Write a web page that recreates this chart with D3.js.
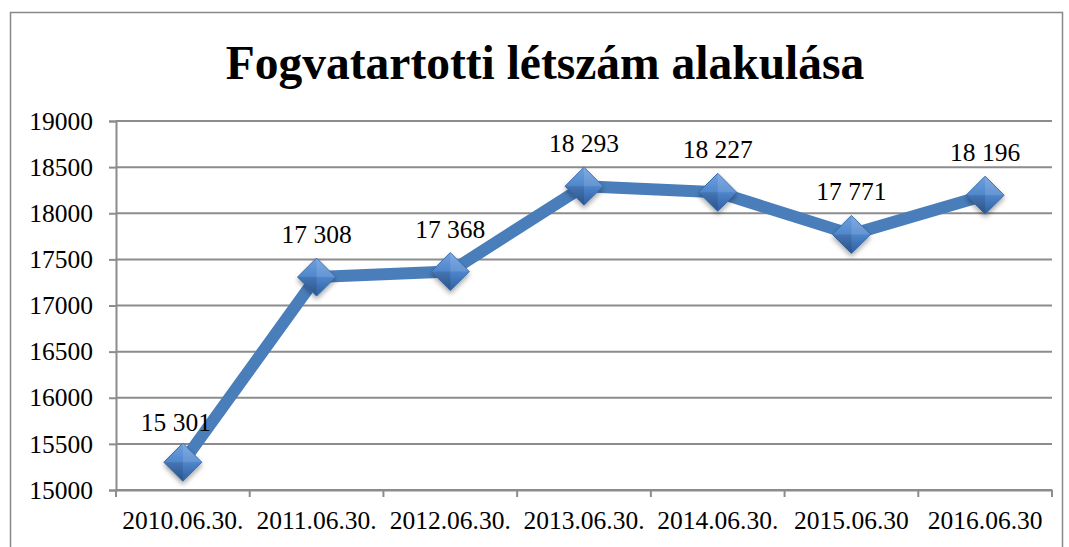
<!DOCTYPE html>
<html>
<head>
<meta charset="utf-8">
<script src="https://cdn.jsdelivr.net/npm/d3@7"></script>
<style>
  body { margin: 0; background: #fff; }
  svg text { font-family: "Liberation Serif", "Times New Roman", serif !important; }
</style>
</head>
<body>
<svg id="chart" width="1069" height="547" font-family="Liberation Serif"></svg>
<script>
// data
const dates = ['2010.06.30.', '2011.06.30.', '2012.06.30.', '2013.06.30.', '2014.06.30.', '2015.06.30', '2016.06.30'];
const headcount = [15301, 17308, 17368, 18293, 18227, 17771, 18196];
const yTicks = [15000, 15500, 16000, 16500, 17000, 17500, 18000, 18500, 19000];

const svg = d3.select('#chart');
const margin = {left: 116, top: 121, right: 1052, bottom: 490};
const fs = 25.5;

// outer frame
svg.append('rect')
  .attr('x', 10.5).attr('y', 12.5)
  .attr('width', 1052).attr('height', 560)
  .attr('fill', 'none').attr('stroke', '#888').attr('stroke-width', 1.5);

svg.append('text')
  .attr('x', 545).attr('y', 79)
  .attr('text-anchor', 'middle')
  .attr('font-size', 47.5).attr('font-weight', 'bold')
  .text('Fogvatartotti létszám alakulása');

const x = d3.scaleBand().domain(dates).range([margin.left, margin.right]);
const y = d3.scaleLinear().domain([15000, 19000]).range([margin.bottom, margin.top]);

// gridlines
svg.append('g')
  .selectAll('line')
  .data(yTicks)
  .join('line')
  .attr('x1', margin.left).attr('x2', margin.right)
  .attr('y1', d => y(d)).attr('y2', d => y(d))
  .attr('stroke', '#8c8c8c').attr('stroke-width', 2);

// y axis
const yAxis = svg.append('g')
  .attr('transform', `translate(${margin.left},0)`)
  .call(d3.axisLeft(y).tickValues(yTicks).tickSize(7).tickPadding(16).tickFormat(d3.format('d')));
yAxis.attr('font-family', 'Liberation Serif').attr('font-size', fs);
yAxis.selectAll('text').attr('fill', '#000');
yAxis.selectAll('line,path').attr('stroke', '#8c8c8c').attr('stroke-width', 2);

// x axis
const xAxis = svg.append('g')
  .attr('transform', `translate(0,${margin.bottom})`)
  .call(d3.axisBottom(x).tickSize(0).tickPadding(21));
xAxis.attr('font-family', 'Liberation Serif').attr('font-size', fs);
xAxis.select('.domain').attr('stroke', '#8c8c8c').attr('stroke-width', 2);
xAxis.selectAll('text').attr('fill', '#000');
xAxis.selectAll('.tick line').remove();
svg.append('g')
  .selectAll('line')
  .data(dates.concat(['end']))
  .join('line')
  .attr('x1', (d, i) => margin.left + i * x.step())
  .attr('x2', (d, i) => margin.left + i * x.step())
  .attr('y1', margin.bottom).attr('y2', margin.bottom + 7)
  .attr('stroke', '#8c8c8c').attr('stroke-width', 2);

const cx = d => x(d) + x.bandwidth() / 2;

// line
const line = d3.line()
  .x((d, i) => cx(dates[i]))
  .y(d => y(d));
svg.append('path')
  .datum(headcount)
  .attr('d', line)
  .attr('fill', 'none')
  .attr('stroke', '#4a7ebb')
  .attr('stroke-width', 12)
  .attr('stroke-linejoin', 'round');

// marker gradient + shadow
const defs = svg.append('defs');
const grad = defs.append('linearGradient').attr('id', 'dia')
  .attr('x1', 0).attr('y1', 0).attr('x2', 0).attr('y2', 1);
grad.append('stop').attr('offset', '0%').attr('stop-color', '#6fa0e0');
grad.append('stop').attr('offset', '50%').attr('stop-color', '#4f86cc');
grad.append('stop').attr('offset', '100%').attr('stop-color', '#2f5f9e');
const sh = defs.append('filter').attr('id', 'shadow')
  .attr('x', '-50%').attr('y', '-50%').attr('width', '200%').attr('height', '200%');
sh.append('feDropShadow').attr('dx', 0).attr('dy', 3).attr('stdDeviation', 2.5)
  .attr('flood-color', '#000').attr('flood-opacity', 0.35);

const r = 19;
const markers = svg.append('g')
  .selectAll('g')
  .data(headcount)
  .join('g')
  .attr('transform', (d, i) => `translate(${cx(dates[i])},${y(d)})`);
markers.append('path')
  .attr('d', `M0,${-r}L${r},0L0,${r}L${-r},0Z`)
  .attr('fill', 'url(#dia)')
  .attr('stroke', '#3a6aa8').attr('stroke-width', 1)
  .attr('filter', 'url(#shadow)');
// facets
markers.append('path')
  .attr('d', `M0,${-r}L${r},0L0,0Z`)
  .attr('fill', '#fff').attr('opacity', 0.12);
markers.append('path')
  .attr('d', `M0,${r}L${-r},0L0,0Z`)
  .attr('fill', '#000').attr('opacity', 0.12);

// data labels (first one sits a bit left, clear of the line)
svg.append('g')
  .selectAll('text')
  .data(headcount)
  .join('text')
  .attr('x', (d, i) => cx(dates[i]) - (i === 0 ? 7 : 0))
  .attr('y', (d, i) => y(d) - (i === 0 ? 31 : 34))
  .attr('text-anchor', 'middle')
  .attr('font-size', fs)
  .text(d => d3.format(',')(d).replace(',', ' '));
</script>
</body>
</html>
